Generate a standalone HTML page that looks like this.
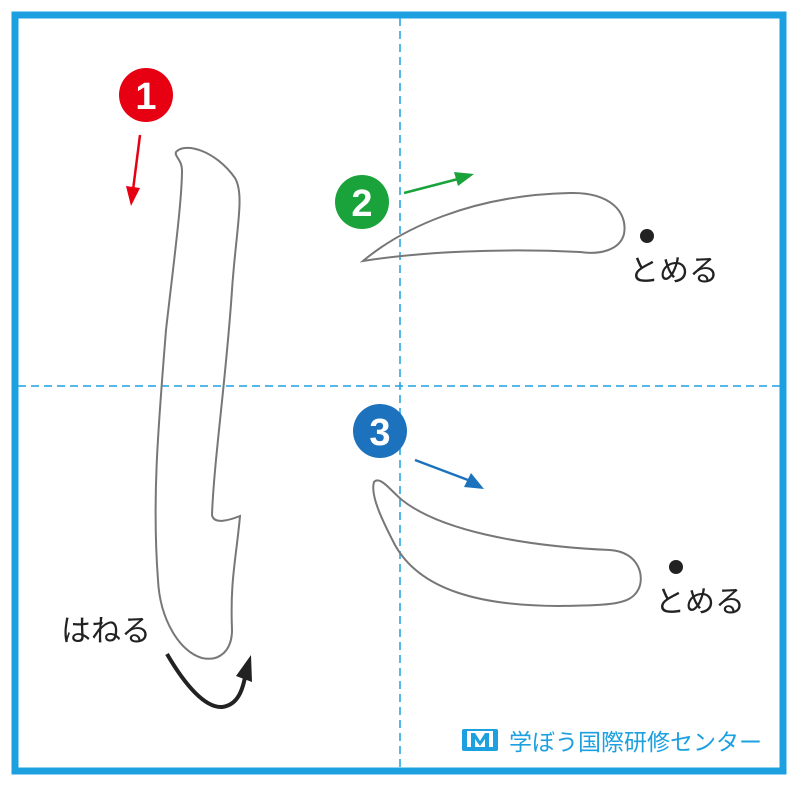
<!DOCTYPE html>
<html><head><meta charset="utf-8"><style>
body{margin:0;background:#fff;width:800px;height:788px;overflow:hidden}
svg{display:block}
text{font-family:"Liberation Sans","Noto Sans CJK JP",sans-serif}
</style></head><body>
<svg width="800" height="788" viewBox="0 0 800 788">
<rect x="15" y="15" width="768" height="756" fill="#fff" stroke="#1ca0e0" stroke-width="7"/>
<line x1="400" y1="18" x2="400" y2="768" stroke="#1ca0e0" stroke-width="1.5" stroke-dasharray="8,5"/>
<line x1="18" y1="386" x2="780" y2="386" stroke="#1ca0e0" stroke-width="1.5" stroke-dasharray="8,5"/>
<g fill="none" stroke="#777" stroke-width="2">
<path d="M176,152 C185,142 215,150 235,178 C245,195 236,230 232,290 C226,380 214,460 212,515 C214,525 230,520 240,516 C236,560 230,580 232,630 C232,650 220,662 202,658 C180,652 160,620 158,580 C152,500 158,430 166,330 C174,260 182,200 182,170 C182,160 174,156 176,152 Z"/>
<path d="M363,261 C400,230 470,195 570,193 C610,192 628,212 624,234 C620,250 600,255 580,252 C500,248 420,252 363,261 Z"/>
<path d="M374,482 C380,475 392,492 402,500 C440,530 520,546 610,550 C640,552 645,578 638,590 C630,605 610,605 560,606 C480,606 420,590 395,545 C382,520 370,495 374,482 Z"/>
</g>
<circle cx="146" cy="95" r="27" fill="#e60012"/>
<text x="146" y="109" font-size="38" font-weight="bold" fill="#fff" text-anchor="middle">1</text>
<circle cx="362" cy="202" r="27" fill="#1aa33a"/>
<text x="362" y="216" font-size="38" font-weight="bold" fill="#fff" text-anchor="middle">2</text>
<circle cx="380" cy="431" r="27" fill="#1c72bc"/>
<text x="380" y="445" font-size="38" font-weight="bold" fill="#fff" text-anchor="middle">3</text>
<line x1="140" y1="135" x2="133" y2="190" stroke="#e60012" stroke-width="2.5"/>
<polygon points="126,186 140,188 131,206" fill="#e60012"/>
<line x1="404" y1="193" x2="458" y2="179" stroke="#1aa33a" stroke-width="2.5"/>
<polygon points="454,172 474,174 458,186" fill="#1aa33a"/>
<line x1="415" y1="460" x2="468" y2="480" stroke="#1c72bc" stroke-width="2.5"/>
<polygon points="471,473 484,489 464,487" fill="#1c72bc"/>
<circle cx="647" cy="236" r="7" fill="#222"/>
<text x="629" y="281" font-size="30" fill="#222">とめる</text>
<circle cx="676" cy="567" r="7" fill="#222"/>
<text x="655" y="612" font-size="30" fill="#222">とめる</text>
<text x="61" y="641" font-size="30" fill="#222">はねる</text>
<path d="M167,654 C185,685 205,708 222,707 C238,705 243,690 246,672" fill="none" stroke="#222" stroke-width="4"/>
<polygon points="236,676 251,655 252,682" fill="#222"/>
<g fill="#1ca0e0">
<rect x="462" y="729" width="36" height="22" rx="2"/>
<rect x="467" y="731" width="26" height="16" fill="#fff"/>
<path d="M471,733 h4 l5,8 l5,-8 h4 v14 h-4 v-8 l-5,7 l-5,-7 v8 h-4z"/>
</g>
<text x="509" y="750" font-size="23" fill="#1ca0e0">学ぼう国際研修センター</text>
</svg>
</body></html>
